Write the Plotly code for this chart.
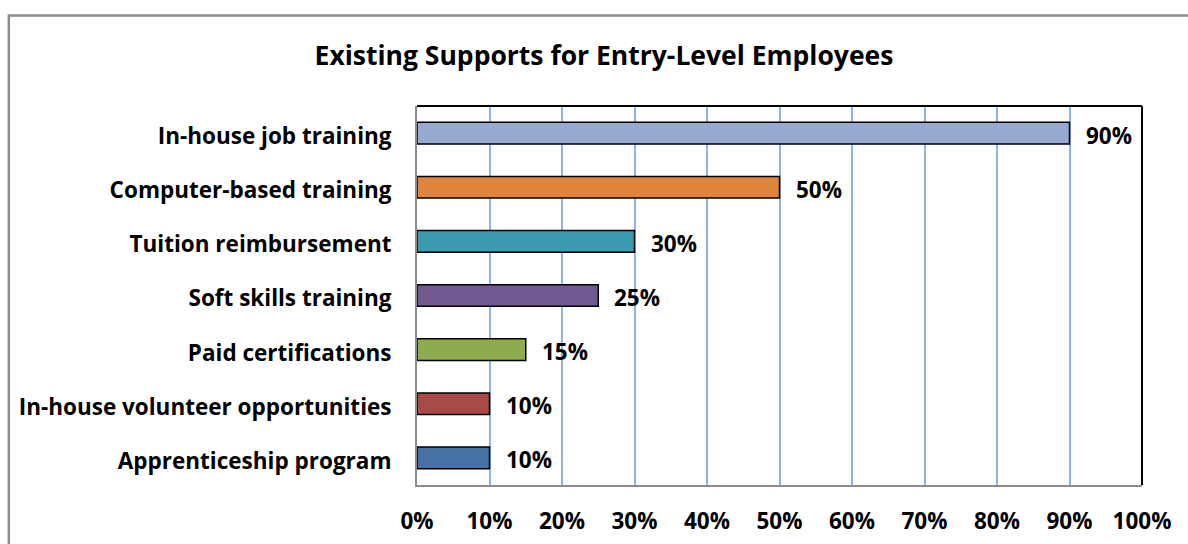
import plotly.graph_objects as go

# Survey results: share of employers offering each support
categories = [
    "In-house job training",
    "Computer-based training",
    "Tuition reimbursement",
    "Soft skills training",
    "Paid certifications",
    "In-house volunteer opportunities",
    "Apprenticeship program",
]
values = [90, 50, 30, 25, 15, 10, 10]
bar_colors = ["#95A9D1", "#DF843D", "#3B9BAE", "#715A92", "#8EAC4F", "#A84A46", "#4571A7"]
tick_vals = [0, 10, 20, 30, 40, 50, 60, 70, 80, 90, 100]
tick_text = [f"{v}%" for v in tick_vals]
title_text = "Existing Supports for Entry-Level Employees"

FONT = "Open Sans, Calibri, Carlito, sans-serif"

fig = go.Figure(
    go.Bar(
        x=values,
        y=categories,
        orientation="h",
        marker=dict(color=bar_colors, line=dict(color="#000000", width=1.5)),
        width=0.4,
        hoverinfo="skip",
    )
)

# value labels to the right of each bar
for cat, val in zip(categories, values):
    fig.add_annotation(
        x=val, y=cat, text=f"<b>{val}%</b>", showarrow=False,
        xanchor="left", xshift=14, yshift=-2,
        font=dict(family=FONT, size=22.5, color="#000000"),
    )

# black top/right edges of the plot area
fig.add_shape(type="line", xref="paper", yref="paper", x0=0, x1=1, y0=1, y1=1,
              line=dict(color="#000000", width=2))
fig.add_shape(type="line", xref="paper", yref="paper", x0=1, x1=1, y0=0, y1=1,
              line=dict(color="#000000", width=2))
# outer chart frame
fig.add_shape(type="rect", xref="paper", yref="paper", x0=-0.563, x1=1.2, y0=-0.3, y1=1.239,
              line=dict(color="#8C8C8C", width=2.5), layer="below")

fig.update_layout(
    width=1188,
    height=544,
    margin=dict(l=417, r=46, t=106, b=59),
    paper_bgcolor="#FFFFFF",
    plot_bgcolor="#FFFFFF",
    showlegend=False,
    title=dict(
        text=f"<b>{title_text}</b>",
        x=604 / 1188, xanchor="center", xref="container",
        y=1 - 56 / 544, yanchor="middle", yref="container",
        font=dict(family=FONT, size=26.5, color="#000000"),
    ),
    xaxis=dict(
        range=[0, 100],
        tickvals=tick_vals,
        ticktext=[f"<b>{t}</b>" for t in tick_text],
        showgrid=True,
        gridcolor="#8EB4E3",
        gridwidth=1.5,
        zeroline=False,
        showline=True,
        linecolor="#8C8C8C",
        linewidth=2,
        ticks="",
        ticklabelstandoff=15,
        tickfont=dict(family=FONT, size=22.5, color="#000000"),
        automargin=False,
        fixedrange=True,
    ),
    yaxis=dict(
        autorange="reversed",
        tickvals=categories,
        ticktext=[f"<b>{c}</b>" for c in categories],
        showgrid=False,
        zeroline=False,
        showline=True,
        linecolor="#8C8C8C",
        linewidth=2,
        ticks="",
        ticklabelstandoff=19,
        ticklabelshift=-3,
        tickfont=dict(family=FONT, size=22.5, color="#000000"),
        automargin=False,
        fixedrange=True,
    ),
)

fig.write_html("out.html")
